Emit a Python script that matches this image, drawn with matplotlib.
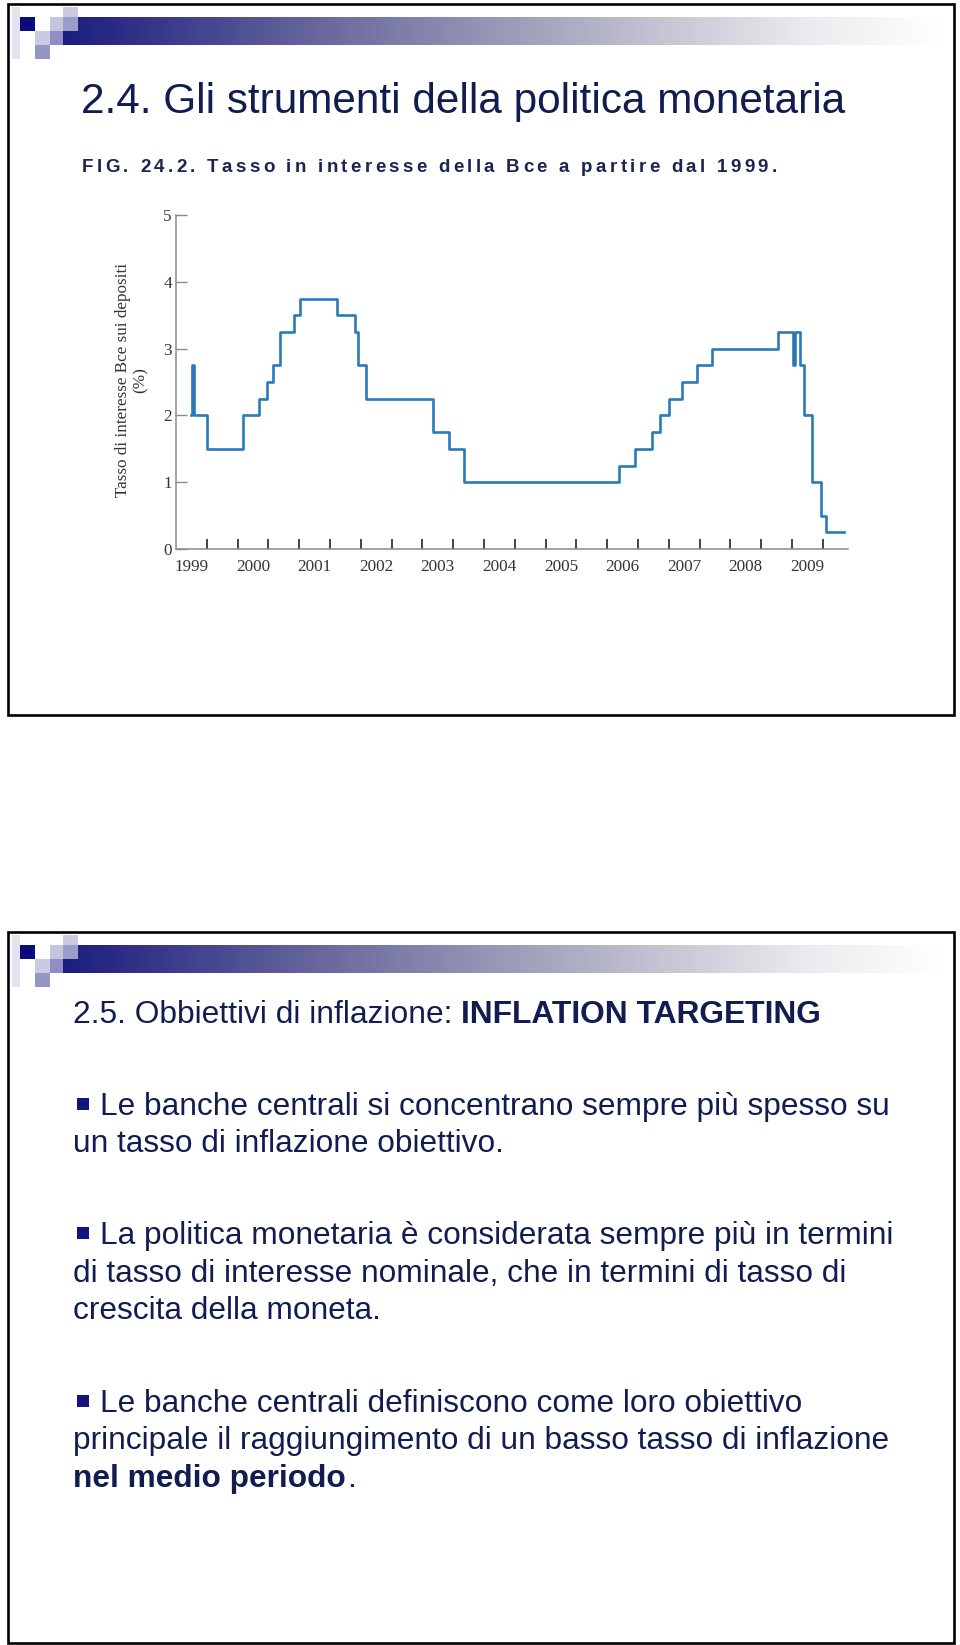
import numpy as np
import matplotlib
matplotlib.use('Agg')
import matplotlib.pyplot as plt
from matplotlib.patches import Rectangle
from matplotlib.colors import LinearSegmentedColormap
from matplotlib import font_manager
from matplotlib.ft2font import FT2Font

# ECB deposit rate: dates of change (decimal years) and new level (%)
dates = [1999.00, 1999.01, 1999.045, 1999.25, 1999.84, 2000.09, 2000.22, 2000.32,
         2000.44, 2000.66, 2000.77, 2001.36, 2001.66, 2001.70, 2001.84, 2002.93,
         2003.18, 2003.43, 2005.95, 2006.20, 2006.47, 2006.60, 2006.76, 2006.96,
         2007.21, 2007.46, 2008.53, 2008.775, 2008.80, 2008.885, 2008.95, 2009.08,
         2009.22, 2009.30, 2009.60]
rates = [2.0, 2.75, 2.0, 1.5, 2.0, 2.25, 2.5, 2.75,
         3.25, 3.5, 3.75, 3.5, 3.25, 2.75, 2.25, 1.75,
         1.5, 1.0, 1.25, 1.5, 1.75, 2.0, 2.25, 2.5,
         2.75, 3.0, 3.25, 2.75, 3.25, 2.75, 2.0, 1.0,
         0.5, 0.25, 0.25]

years = list(range(1999, 2010))
year_labels = [str(y) for y in years]
yticks = [0, 1, 2, 3, 4, 5]

title1 = "2.4. Gli strumenti della politica monetaria"
subtitle = "FIG. 24.2. Tasso in interesse della Bce a partire dal 1999."
ylabel_lines = ["Tasso di interesse Bce sui depositi", "(%)"]
title2_regular = "2.5. Obbiettivi di inflazione:"
title2_bold = "INFLATION TARGETING"
paragraphs = [
    ["Le banche centrali si concentrano sempre più spesso su",
     "un tasso di inflazione obiettivo."],
    ["La politica monetaria è considerata sempre più in termini",
     "di tasso di interesse nominale, che in termini di tasso di",
     "crescita della moneta."],
    ["Le banche centrali definiscono come loro obiettivo",
     "principale il raggiungimento di un basso tasso di inflazione",
     "nel medio periodo"],
]

W, H = 960, 1645
navy = '#111d50'
sans = ['Liberation Sans', 'DejaVu Sans']
serif = ['Liberation Serif', 'DejaVu Serif']

fig = plt.figure(figsize=(9.6, 16.45), dpi=100)
bg = fig.add_axes([0, 0, 1, 1])
bg.axis('off')

bar_cmap = LinearSegmentedColormap.from_list(
    'bar', [(0, '#1c1c80'), (0.3, '#6a6a9e'), (0.6, '#b2b2c6'), (0.85, '#ececf0'), (1, '#ffffff')])


def slide(top, bottom):
    # frame
    bg.add_patch(Rectangle((8, top), 946, bottom - top, fill=False, lw=1.9, ec='black', zorder=5))
    # gradient header bar
    grad = np.linspace(0, 1, 256).reshape(1, -1)
    bg.imshow(grad, cmap=bar_cmap, extent=(63, 945, top + 41, top + 13), aspect='auto', zorder=1)
    # pixel squares
    squares = [
        (12, top + 3, 8, 52, '#e4e4f0'),
        (20, top + 13, 15, 14, '#0c0c80'),
        (63, top + 3, 15, 10, '#cacae3'),
        (50, top + 13, 13, 14, '#c4c4e0'),
        (63, top + 13, 15, 14, '#9c9ccc'),
        (35, top + 27, 15, 14, '#cacae2'),
        (50, top + 27, 13, 14, '#8e8ec4'),
        (35, top + 41, 15, 14, '#9696c4'),
    ]
    for x, y, w, h, c in squares:
        bg.add_patch(Rectangle((x, y), w, h, color=c, lw=0, zorder=2))


slide(4, 715)
slide(932, 1643)

# slide 1 texts
bg.text(81, 113, title1, family=sans, fontsize=30.4, color=navy, va='baseline', ha='left')

# letter-spaced caption
fp_sub = font_manager.FontProperties(family='Liberation Sans', weight='bold')
ft = FT2Font(font_manager.findfont(fp_sub))
ft.set_size(13.5, 100)
x = 82
for ch in subtitle:
    if ch != ' ':
        bg.text(x, 172, ch, family=sans, weight='bold', fontsize=13.5, color='#1a2650',
                va='baseline', ha='left')
    x += ft.load_char(ord(ch)).linearHoriAdvance / 65536 + 3.3

bg.text(123, 380, ylabel_lines[0], family=serif, fontsize=12.3, color='#333333',
        rotation=90, ha='center', va='center')
bg.text(141, 380, ylabel_lines[1], family=serif, fontsize=12.3, color='#333333',
        rotation=90, ha='center', va='center')

# slide 2 texts
t = bg.text(73, 1023, title2_regular, family=sans, fontsize=22.9, color=navy,
            va='baseline', ha='left')
bg.annotate(title2_bold, xy=(1, 0), xycoords=t, xytext=(6, 0), textcoords='offset points',
            family=sans, weight='bold', fontsize=22.9, color=navy, va='bottom', ha='left')

para_tops = [1115, 1244, 1412]
line_gap = 37.5
for p, (base, lines) in enumerate(zip(para_tops, paragraphs)):
    bg.add_patch(Rectangle((77, base - 17), 12, 12, color='#141480', lw=0))
    for i, line in enumerate(lines):
        xx = 100 if i == 0 else 73
        bold = (p == 2 and i == len(lines) - 1)
        tt = bg.text(xx, base + i * line_gap, line, family=sans, fontsize=22.8, color=navy,
                     weight='bold' if bold else 'normal', va='baseline', ha='left')
        if bold:
            bg.annotate('.', xy=(1, 0), xycoords=tt, xytext=(1, 0), textcoords='offset points',
                        family=sans, fontsize=22.8, color=navy, va='bottom', ha='left')

bg.set_xlim(0, W)
bg.set_ylim(H, 0)

# chart
ax = fig.add_axes([176 / W, 1 - 549 / H, 672 / W, 334 / H])
ax.set_facecolor('none')
ax.step(dates, rates, where='post', color='#2a7ab8', lw=1.9)
ax.set_xlim(1998.75, 2009.66)
ax.set_ylim(0, 5)
for s in ['top', 'right']:
    ax.spines[s].set_visible(False)
for s in ['left', 'bottom']:
    ax.spines[s].set_color('#8a8a8a')
    ax.spines[s].set_linewidth(1.1)

ax.set_xticks(years)
ax.set_xticklabels(year_labels, family=serif, fontsize=12.3, color='#333333')
ax.set_xticks(np.arange(1999.25, 2009.3, 0.5), minor=True)
ax.tick_params(axis='x', which='major', length=0, pad=7)
ax.tick_params(axis='x', which='minor', direction='in', length=7.5, width=1.2, color='#222222')
ax.set_yticks(yticks)
ax.set_yticklabels([str(v) for v in yticks], family=serif, fontsize=12.3, color='#333333')
ax.tick_params(axis='y', direction='in', length=8, width=1, color='#8a8a8a', pad=3)

fig.savefig('out.png', dpi=100)
